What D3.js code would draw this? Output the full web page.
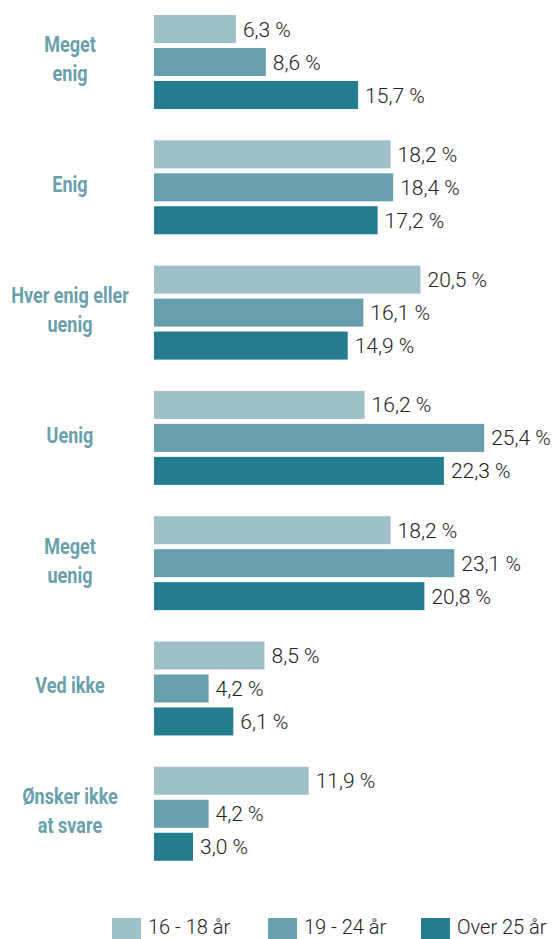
<!DOCTYPE html>
<html><head><meta charset="utf-8">
<script src="https://cdn.jsdelivr.net/npm/d3@7/dist/d3.min.js"></script>
<style>
html,body{margin:0;padding:0;background:#fff;}
svg{display:block;}
</style></head>
<body>
<script>
const categories = [["Meget","enig"],["Enig"],["Hver enig eller","uenig"],["Uenig"],["Meget","uenig"],["Ved ikke"],["Ønsker ikke","at svare"]];
const series = ["16 - 18 år","19 - 24 år","Over 25 år"];
const values16_18 = [6.3, 18.2, 20.5, 16.2, 18.2, 8.5, 11.9];
const values19_24 = [8.6, 18.4, 16.1, 25.4, 23.1, 4.2, 4.2];
const valuesOver25 = [15.7, 17.2, 14.9, 22.3, 20.8, 6.1, 3.0];
const colors = ["#9fbfc9","#679fac","#237d8e"];

const W = 553, H = 939;
const svg = d3.select("body").append("svg").attr("width", W).attr("height", H);

const catKeys = categories.map(c => c.join(" "));
const y = d3.scaleBand().domain(catKeys).range([2.5, 873.3]).paddingInner(0.25).paddingOuter(0.1);
const ySub = d3.scaleBand().domain(series).range([0, y.bandwidth()]).paddingInner(0.15);
const x = d3.scaleLinear().domain([0, 10]).range([154, 284]);

const allVals = [values16_18, values19_24, valuesOver25];
const fmt = v => d3.format(".1f")(v).replace(".", ",") + " %";

catKeys.forEach((k, i) => {
  const g = svg.append("g").attr("transform", `translate(0,${y(k)})`);
  series.forEach((s, j) => {
    const v = allVals[j][i];
    g.append("rect").attr("x", x(0)).attr("y", ySub(s)).attr("width", x(v) - x(0)).attr("height", ySub.bandwidth()).attr("fill", colors[j]);
    g.append("text").attr("x", x(v) + 7).attr("y", ySub(s) + ySub.bandwidth()/2).attr("dy", "0.36em")
      .attr("font-family", "Roboto, sans-serif").attr("font-weight", 300).attr("font-size", 21).attr("fill", "#222")
      .text(fmt(v));
  });
  const lines = categories[i];
  const cy = y.bandwidth()/2 - 3;
  const lh = 29;
  const lg = g.append("g").attr("transform", "translate(70,0) scale(0.82,1)");
  lines.forEach((ln, li) => {
    lg.append("text").attr("x", 0).attr("y", cy + (li - (lines.length-1)/2) * lh).attr("dy", "0.36em")
      .attr("text-anchor", "middle")
      .attr("font-family", "Roboto, sans-serif").attr("font-weight", "bold")
      .attr("font-size", 22).attr("fill", "#6a9fab").text(ln);
  });
});

const legX = [112, 268, 421];
series.forEach((s, j) => {
  svg.append("rect").attr("x", legX[j]).attr("y", 918).attr("width", 29).attr("height", 30).attr("fill", colors[j]);
  svg.append("text").attr("x", legX[j] + 36).attr("y", 934)
    .attr("font-family", "Roboto, sans-serif").attr("font-weight", 300).attr("font-size", 20).attr("fill", "#222").text(s);
});
</script>
</body></html>
